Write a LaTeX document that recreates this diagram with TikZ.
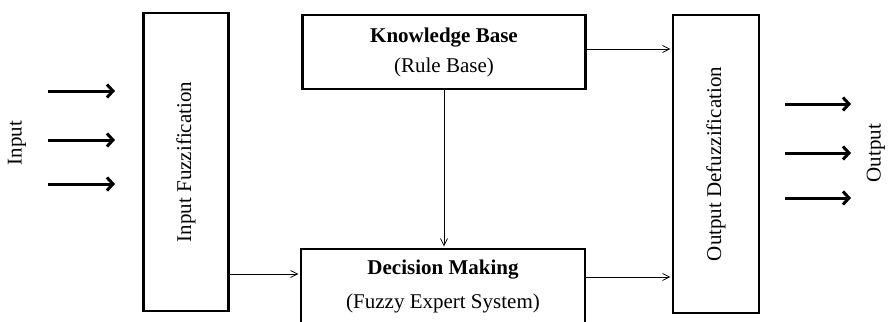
\documentclass[tikz,border=0pt]{standalone}
\usepackage{fontspec}
\setmainfont{Liberation Serif}
\usepackage{graphicx}
\usetikzlibrary{positioning,arrows.meta,calc}

\begin{document}
\begin{tikzpicture}[x=1pt, y=-1pt,
    every node/.style={font=\fontsize{21}{30}\selectfont},
    block/.style={draw, line width=2.8pt, inner sep=0pt, align=center},
    linkarrow/.style={-{Straight Barb[length=7pt,width=7pt]}, line width=0.8pt, shorten >=1.2pt},
    signalarrow/.style={-{Straight Barb[length=6pt,width=13pt]}, line width=3pt}]
  \path[use as bounding box, clip] (0,0) rectangle (888,321);

  % Blocks
  \node[block, minimum width=85pt, minimum height=298pt] (inFuzz) at (186,162) {\rotatebox{90}{Input Fuzzification}};
  \node[block, minimum width=283pt, minimum height=74pt] (kb) at (444,52) {\textbf{Knowledge Base}\\(Rule Base)};
  \node[block, minimum width=284pt, minimum height=75pt] (dm) at (443,286.5) {\textbf{Decision Making}\\[4pt](Fuzzy Expert System)};
  \node[block, minimum width=86pt, minimum height=298pt] (outDefuzz) at (716,164) {\rotatebox{90}{Output Defuzzification}};

  % Side labels
  \node[rotate=90] (inLabel) at (17,143) {Input};
  \node[rotate=90] (outLabel) at (876,153) {Output};

  % Input and output signals
  \foreach \y [count=\i] in {91,140,184} {
    \coordinate (inTail\i) at (48,\y);
    \coordinate (inHead\i) at (115,\y);
    \draw[signalarrow] (inTail\i) -- (inHead\i);
  }
  \foreach \y [count=\i] in {104,153,198} {
    \coordinate (outTail\i) at (785,\y);
    \coordinate (outHead\i) at (851,\y);
    \draw[signalarrow] (outTail\i) -- (outHead\i);
  }

  % Links between blocks
  \draw[linkarrow] (kb.south) -- (kb.south |- dm.north);
  \coordinate (dmIn) at ([yshift=12.5pt]dm.west);
  \draw[linkarrow] (inFuzz.east |- dmIn) -- (dmIn);
  \coordinate (kbOut) at ([yshift=3pt]kb.east);
  \draw[linkarrow] (kbOut) -- (kbOut -| outDefuzz.west);
  \coordinate (dmOut) at ([yshift=9.5pt]dm.east);
  \draw[linkarrow] (dmOut) -- (dmOut -| outDefuzz.west);
\end{tikzpicture}
\end{document}
